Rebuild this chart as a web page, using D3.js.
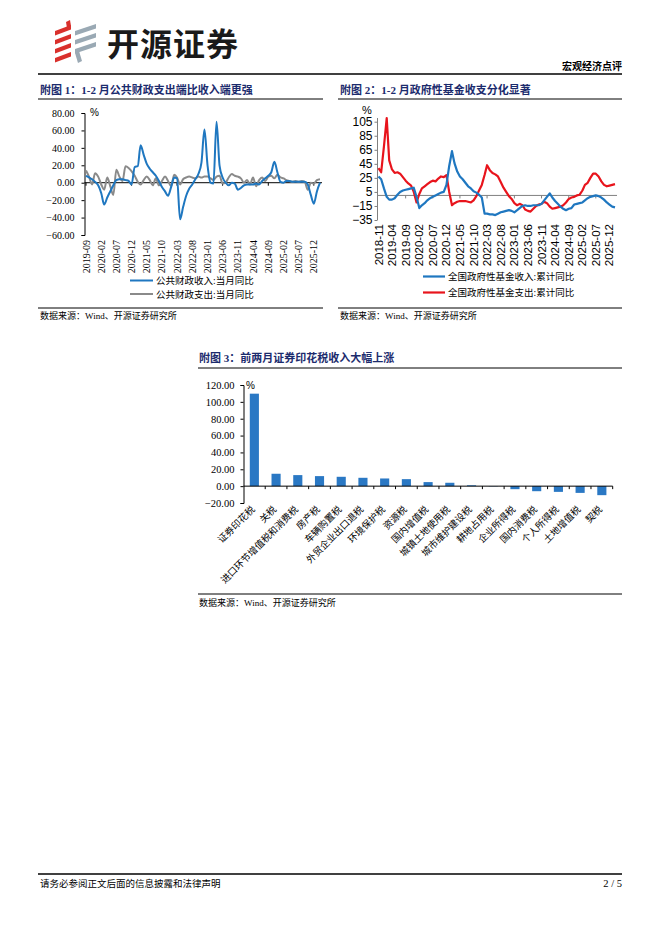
<!DOCTYPE html>
<html><head><meta charset="utf-8">
<script src="https://cdn.jsdelivr.net/npm/d3@7"></script>
<style>body{margin:0;background:#fff}svg{display:block}</style>
</head><body><svg id="page" width="662" height="936"></svg>
<script>
// ---------------- DATA ----------------
// Chart 1: 公共财政收入/支出 当月同比 (monthly, 2019-09 .. 2026-02)
const fiscalStart = "2019-09";
const fiscalRevenueYoY = [8,6,4,1,-3,-12,-25,-17,-10,-3,3,4,4,3,2,-2,18,19,43,32,22,16,12,8,2,-5,-10,-15,-5,6,5,-42,-28,-15,-7,-2,4,10,23,61,20,0,-1,70,20,6,0,-3,0,-1,-8,-6,-3,-2,-2,-2,-1,-2,2,5,8,12,24,12,1,0,2,2,1,1,1,1,1,-2,-14,-24,-10,0];
const fiscalSpendingYoY = [14,7,-2,11,7,-2,-8,6,-4,-14,15,7,2,19,17,13,8,1,-2,3,7,3,-3,5,-3,2,7,2,-4,9,6,-2,4,6,7,6,5,7,6,7,7,5,3,7,8,-1,0,6,10,8,7,5,0,3,-2,6,-4,3,6,2,7,8,5,9,6,5,3,2,1,2,1,2,1,-8,0,-1,3,4];
const fiscalTickLabels = ["2019-09","2020-02","2020-07","2020-12","2021-05","2021-10","2022-03","2022-08","2023-01","2023-06","2023-11","2024-04","2024-09","2025-02","2025-07","2025-12"];
const fiscalYTicks = [-60,-40,-20,0,20,40,60,80];
const fiscalLegend = ["公共财政收入:当月同比","公共财政支出:当月同比"];

// Chart 2: 全国政府性基金收入/支出 累计同比 (2018-11 .. 2026-02)
const fundStart = "2018-11";
const fundRevenueYoY = [27,23,10,-2,-6,-6,-4,1,5,7,8,9,10,11,-2,-18,-14,-11,-7,-4,-2,0,2,4,5,15,42,63,46,34,27,23,18,13,10,6,4,1,-3,-26,-26,-27,-27,-28,-26,-24,-23,-22,-21,-22,-24,-21,-18,-15,-14,-15,-15,-14,-14,-14,-12,-7,-2,3,-3,-8,-12,-16,-19,-21,-19,-18,-13,-12,-11,-10,-7,-4,-2,-1,0,-1,-3,-6,-10,-13,-16,-17];
const fundSpendingYoY = [39,33,70,110,50,37,32,33,31,26,21,17,14,5,-10,2,10,13,16,19,21,20,24,27,26,29,5,-14,-11,-9,-8,-8,-8,-9,-10,-7,-1,7,15,29,43,36,32,30,27,19,11,5,-1,-5,-11,-14,-12,-14,-20,-22,-23,-19,-15,-13,-12,-9,-11,-16,-19,-18,-17,-16,-14,-10,-5,-3,-2,0,1,7,15,18,25,31,31,27,20,15,13,14,15,16];
const fundTickLabels = ["2018-11","2019-04","2019-09","2020-02","2020-07","2020-12","2021-05","2021-10","2022-03","2022-08","2023-01","2023-06","2023-11","2024-04","2024-09","2025-02","2025-07","2025-12"];
const fundYTicks = [-35,-15,5,25,45,65,85,105];
const fundLegend = ["全国政府性基金收入:累计同比","全国政府性基金支出:累计同比"];

// Chart 3: 前两月各税种收入同比
const taxCategories = ["证券印花税","关税","进口环节增值税和消费税","房产税","车辆购置税","外贸企业出口退税","环境保护税","资源税","国内增值税","城镇土地使用税","城市维护建设税","耕地占用税","企业所得税","国内消费税","个人所得税","土地增值税","契税"];
const taxGrowth = [109.7,14.7,13.1,11.9,11.1,9.9,9.1,8.3,4.8,4.0,1.0,-0.3,-3.6,-6.0,-6.8,-8.0,-10.7];
const taxYTicks = [-20,0,20,40,60,80,100,120];

// ---------------- STYLE ----------------
const SERIF_CJK = "'Liberation Serif','Noto Sans CJK SC',serif";
const SANS = "'Liberation Sans',Arial,sans-serif";
const CJK = "'Noto Sans CJK SC',sans-serif";
const TITLE_COLOR = "#1b2b6d";
const BLUE = "#1f77c0", GREY = "#8a8a8a", RED = "#e8141c", BAR = "#2a78c4";

const svg = d3.select("#page");
svg.append("rect").attr("width",662).attr("height",936).attr("fill","#fff");

const parseMonth = d3.timeParse("%Y-%m");
function hline(x1,x2,y,w,c){svg.append("line").attr("x1",x1).attr("x2",x2).attr("y1",y).attr("y2",y).attr("stroke",c||"#000").attr("stroke-width",w||1);}
function text(x,y,s,opt){
  opt=opt||{};
  return svg.append("text").attr("x",x).attr("y",y).text(s)
    .attr("font-family",opt.family||SERIF_CJK).attr("font-size",opt.size||10)
    .attr("font-weight",opt.weight||"normal").attr("fill",opt.fill||"#000")
    .attr("text-anchor",opt.anchor||"start");
}

// ---------------- HEADER ----------------
const logo = svg.append("g");
const redBars = [[55,31],[55,40],[55,49],[55,58]];
redBars.forEach(([x,y])=>{
  logo.append("path").attr("d",`M${x},${y} L${x+16},${y-6} L${x+16},${y-1.5} L${x},${y+4.5} Z`).attr("fill","#d9302c");
});
logo.append("path").attr("d","M66,22 L70,20 L71,26 L67,28 Z").attr("fill","#d9302c");
const greyBars = [[75,31],[75,40],[75,49]];
greyBars.forEach(([x,y])=>{
  logo.append("path").attr("d",`M${x},${y} L${x+21},${y-7} L${x+21},${y-2.5} L${x},${y+4.5} Z`).attr("fill","#9aa9b4");
});
logo.append("path").attr("d","M75,53 L79,51 L82,61 L78,63 Z").attr("fill","#9aa9b4");
text(107,56,"开源证券",{family:CJK,size:32,weight:"bold",fill:"#1a1a1a"}).attr("letter-spacing",1);
text(622,70,"宏观经济点评",{family:CJK,size:10,weight:"bold",anchor:"end"});
hline(38,622,74,1.3);

// ---------------- TITLES ----------------
text(40,94,"附图 1：1-2 月公共财政支出端比收入端更强",{family:SERIF_CJK,size:11,weight:"bold",fill:TITLE_COLOR});
hline(38,323,99,1);
text(340,94,"附图 2：1-2 月政府性基金收支分化显著",{family:SERIF_CJK,size:11,weight:"bold",fill:TITLE_COLOR});
hline(338,622,99,1);

// ---------------- CHART 1 ----------------
(function(){
  const start = parseMonth(fiscalStart);
  const dates = fiscalRevenueYoY.map((_,i)=>d3.timeMonth.offset(start,i));
  const x = d3.scaleTime().domain([dates[0],dates[dates.length-1]]).range([86,320]);
  const y = d3.scaleLinear().domain([-60,80]).range([235,113]);
  const g = svg.append("g");
  const ya = g.append("g").attr("transform","translate(84.5,0)")
    .call(d3.axisLeft(y).tickValues(fiscalYTicks).tickFormat(d3.format(".2f")).tickSize(3).tickPadding(7));
  ya.select(".domain").attr("stroke","#000");
  ya.selectAll("text").attr("font-family",SERIF_CJK).attr("font-size",10).attr("fill","#000");
  text(90,116,"%",{family:SANS,size:10});
  g.append("line").attr("x1",84.5).attr("x2",322).attr("y1",y(0)).attr("y2",y(0)).attr("stroke","#000").attr("stroke-width",1);
  [0,15,30,45,60,75].forEach(i=>{
    const xx = x(dates[i]);
    g.append("line").attr("x1",xx).attr("x2",xx).attr("y1",y(0)).attr("y2",y(0)+3).attr("stroke","#000");
  });
  fiscalTickLabels.forEach(l=>{
    const xx = x(parseMonth(l));
    g.append("text").attr("transform",`translate(${xx+3.5},240) rotate(-90)`).attr("text-anchor","end")
      .attr("font-family",SERIF_CJK).attr("font-size",10).text(l);
  });
  const line = d3.line().x((d,i)=>x(dates[i])).y(d=>y(d)).curve(d3.curveMonotoneX);
  g.append("path").datum(fiscalSpendingYoY).attr("d",line).attr("fill","none").attr("stroke",GREY).attr("stroke-width",2);
  g.append("path").datum(fiscalRevenueYoY).attr("d",line).attr("fill","none").attr("stroke",BLUE).attr("stroke-width",2);
  [[BLUE,280.5],[GREY,294]].forEach(([c,yy],i)=>{
    g.append("line").attr("x1",130).attr("x2",153).attr("y1",yy).attr("y2",yy).attr("stroke",c).attr("stroke-width",2);
    text(156,yy+3.5,fiscalLegend[i],{size:9.5});
  });
})();

// ---------------- CHART 2 ----------------
(function(){
  const start = parseMonth(fundStart);
  const dates = fundRevenueYoY.map((_,i)=>d3.timeMonth.offset(start,i));
  const x = d3.scaleTime().domain([dates[0],dates[dates.length-1]]).range([378.5,615]);
  const y = d3.scaleLinear().domain([-35,105]).range([220,121.7]);
  const g = svg.append("g");
  const ya = g.append("g").attr("transform","translate(377.5,0)")
    .call(d3.axisLeft(y).tickValues(fundYTicks).tickSize(3).tickPadding(2));
  ya.select(".domain").attr("stroke","#808080").attr("d","M0,118V220");
  ya.selectAll(".tick line").attr("stroke","#808080");
  ya.selectAll("text").attr("font-family",SANS).attr("font-size",12).attr("fill","#000");
  text(362,114,"%",{family:SANS,size:11});
  g.append("line").attr("x1",377.5).attr("x2",617).attr("y1",y(0)).attr("y2",y(0)).attr("stroke","#808080").attr("stroke-width",1);
  for(let i=10;i<dates.length;i+=10){
    const xx=x(dates[i]);
    g.append("line").attr("x1",xx).attr("x2",xx).attr("y1",y(0)).attr("y2",y(0)+3).attr("stroke","#808080");
  }
  fundTickLabels.forEach(l=>{
    const xx = x(parseMonth(l));
    g.append("text").attr("transform",`translate(${xx+4},224) rotate(-90)`).attr("text-anchor","end")
      .attr("font-family",SANS).attr("font-size",11.5).text(l);
  });
  const line = d3.line().x((d,i)=>x(dates[i])).y(d=>y(d));
  g.append("path").datum(fundSpendingYoY).attr("d",line).attr("fill","none").attr("stroke",RED).attr("stroke-width",2.2).attr("stroke-linejoin","round");
  g.append("path").datum(fundRevenueYoY).attr("d",line).attr("fill","none").attr("stroke",BLUE).attr("stroke-width",2.2).attr("stroke-linejoin","round");
  [[BLUE,276.5],[RED,292.5]].forEach(([c,yy],i)=>{
    g.append("line").attr("x1",423).attr("x2",445).attr("y1",yy).attr("y2",yy).attr("stroke",c).attr("stroke-width",2.2);
    text(448,yy+3.5,fundLegend[i],{size:9.5});
  });
})();

hline(38,323,308,1); hline(338,622,308,1);
text(40,319,"数据来源：Wind、开源证券研究所",{size:9});
text(340,319,"数据来源：Wind、开源证券研究所",{size:9});

// ---------------- CHART 3 ----------------
text(199,362,"附图 3：前两月证券印花税收入大幅上涨",{family:SERIF_CJK,size:11,weight:"bold",fill:TITLE_COLOR});
hline(198,622,368,1);
(function(){
  const x = d3.scaleBand().domain(taxCategories).range([243.5,612.7]).paddingInner(0.58).paddingOuter(0.29);
  const y = d3.scaleLinear().domain([-20,120]).range([503,385]);
  const g = svg.append("g");
  const ya = g.append("g").attr("transform","translate(243.5,0)")
    .call(d3.axisLeft(y).tickValues(taxYTicks).tickFormat(d3.format(".2f")).tickSize(3).tickPadding(6));
  ya.select(".domain").attr("stroke","#000");
  ya.selectAll("text").attr("font-family",SERIF_CJK).attr("font-size",10.5).attr("fill","#000");
  text(246,389,"%",{family:SANS,size:10});
  g.selectAll("rect.bar").data(taxGrowth).enter().append("rect")
    .attr("x",(d,i)=>x(taxCategories[i])).attr("width",x.bandwidth())
    .attr("y",d=>y(Math.max(0,d))).attr("height",d=>Math.abs(y(d)-y(0)))
    .attr("fill",BAR);
  g.append("line").attr("x1",243.5).attr("x2",612.7).attr("y1",y(0)).attr("y2",y(0)).attr("stroke","#000");
  const step = x.step();
  taxCategories.forEach((c,i)=>{
    const xx = 243.5 + step*(i+1);
    g.append("line").attr("x1",xx).attr("x2",xx).attr("y1",y(0)).attr("y2",y(0)+3).attr("stroke","#000");
    const cx = x(c)+x.bandwidth()/2;
    g.append("text").attr("transform",`translate(${cx+1},510) rotate(-45)`).attr("text-anchor","end")
      .attr("font-family",SERIF_CJK).attr("font-size",9.5).text(c);
  });
})();
hline(198,622,594,1);
text(199,606,"数据来源：Wind、开源证券研究所",{size:9});

// ---------------- FOOTER ----------------
hline(38,622,874,1.3);
text(40,887,"请务必参阅正文后面的信息披露和法律声明",{size:9.5});
text(622,887,"2 / 5",{family:"'Liberation Serif',serif",size:10.5,anchor:"end"});
</script></body></html>
